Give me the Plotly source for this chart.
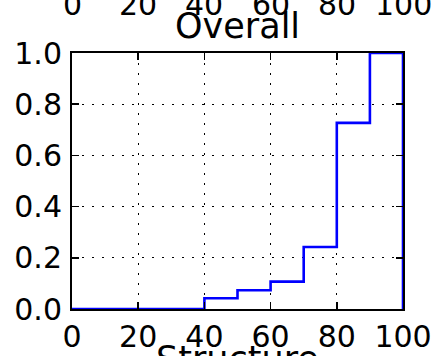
import plotly.graph_objects as go

# ---- data ----
bin_edges = [0, 10, 20, 30, 40, 50, 60, 70, 80, 90, 100]
cum_frac = [0.0, 0.0, 0.0, 0.0, 0.042, 0.073, 0.107, 0.242, 0.727, 1.0]
x_ticks = [0, 20, 40, 60, 80, 100]
y_ticks = [0.0, 0.2, 0.4, 0.6, 0.8, 1.0]
title_text = "Overall"
next_title_text = "Structure"

# step outline of a cumulative histogram (histtype='step')
xs = [bin_edges[0]] + bin_edges[:-1] + [bin_edges[-1], bin_edges[-1]]
ys = [0.0] + cum_frac + [cum_frac[-1], 0.0]

W, H = 434, 356
ML, MR, MT, MB = 72, 31, 53, 47
plot_h = H - MT - MB


def py(p):
    """pixel row -> paper y"""
    return (H - MB - p) / plot_h


FONT = "DejaVu Sans"
fig = go.Figure()
fig.add_trace(go.Scatter(
    x=xs, y=ys, mode="lines", line=dict(color="#0000ff", width=2.6, shape="hv"),
    showlegend=False, hoverinfo="skip", cliponaxis=False,
))

axis_common = dict(
    showline=True, linecolor="#000000", linewidth=2, mirror="ticks",
    ticks="inside", ticklen=7, tickwidth=1.5, tickcolor="#000000",
    showgrid=True, gridcolor="#000000", gridwidth=1, griddash="2px,8px",
    zeroline=False, tickfont=dict(family=FONT, size=30, color="#000000"),
    automargin=False, layer="above traces",
)

fig.update_xaxes(range=[0, 100], tickvals=x_ticks, ticktext=[str(v) for v in x_ticks],
                 ticklabelstandoff=0, **axis_common)
fig.update_yaxes(range=[0, 1], tickvals=y_ticks, tickformat=".1f",
                 ticklabelstandoff=2, **axis_common)

annotations = [
    dict(text=title_text, x=0.5, xref="paper", y=py(26), yref="paper",
         showarrow=False, xanchor="center", yanchor="middle",
         font=dict(family=FONT, size=35, color="#000000")),
    dict(text=next_title_text, x=0.5, xref="paper", y=py(359), yref="paper",
         showarrow=False, xanchor="center", yanchor="middle",
         font=dict(family=FONT, size=35, color="#000000")),
]
for v in x_ticks:
    annotations.append(dict(text=str(v), x=v, xref="x", y=py(4), yref="paper",
                            showarrow=False, xanchor="center", yanchor="middle",
                            font=dict(family=FONT, size=30, color="#000000")))

fig.update_layout(
    width=W, height=H, autosize=False,
    margin=dict(l=ML, r=MR, t=MT, b=MB, pad=0),
    paper_bgcolor="#ffffff", plot_bgcolor="#ffffff",
    annotations=annotations,
)

fig.write_html(
    "out.html",
    config={"displayModeBar": False, "staticPlot": True},
    post_script="document.body.style.margin='0';document.body.style.overflow='hidden';",
)
